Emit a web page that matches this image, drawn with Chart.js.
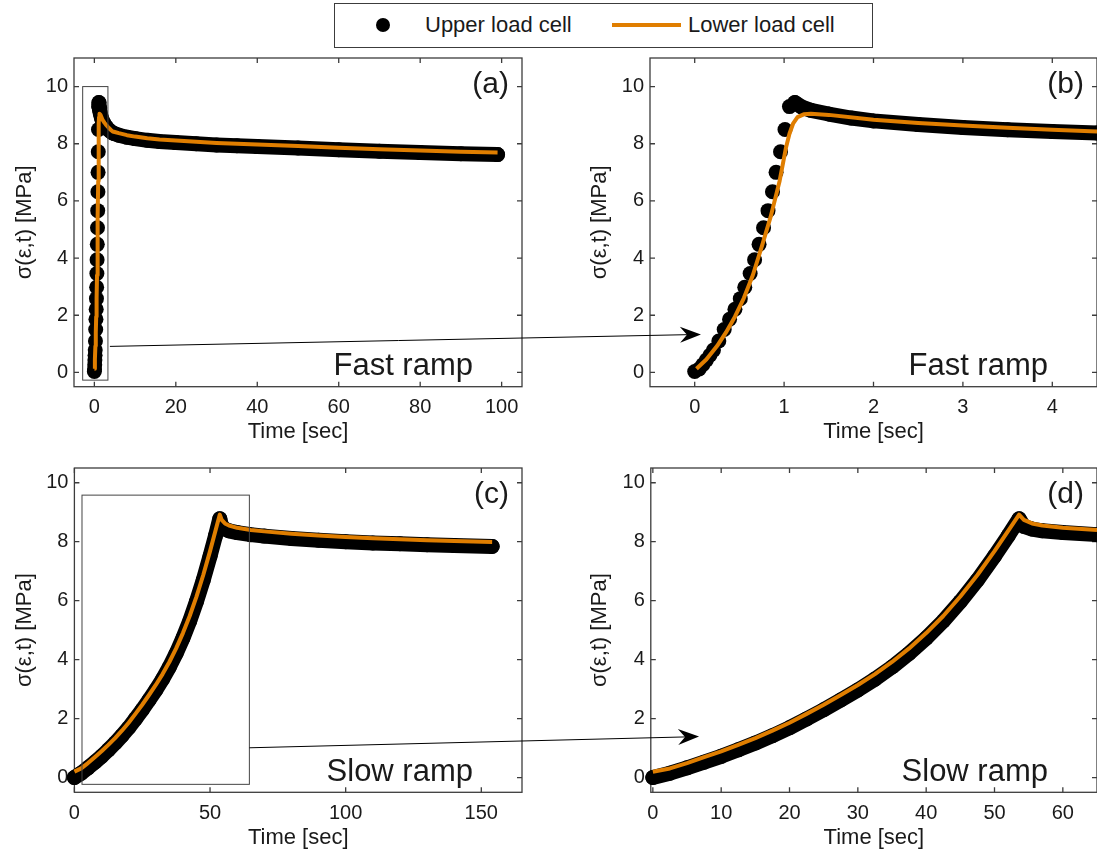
<!DOCTYPE html>
<html>
<head>
<meta charset="utf-8">
<title>Fast and slow ramp relaxation</title>
<script src="https://cdn.jsdelivr.net/npm/chart.js@4.4.1/dist/chart.umd.min.js"></script>
<style>
  html, body { margin: 0; padding: 0; background: #fff; overflow: hidden; width: 1097px; height: 856px; }
  body { position: relative; font-family: "Liberation Sans", Arial, sans-serif; color: #1a1a1a; }
  canvas { position: absolute; }
  #legend { position: absolute; left: 334px; top: 3px; width: 539px; height: 45px; box-sizing: border-box; border: 1px solid #3c3c3c; background: #fff; }
  #legend .dot { position: absolute; left: 41px; top: 14px; width: 14px; height: 14px; border-radius: 50%; background: #000; }
  #legend .line { position: absolute; left: 277px; top: 19px; width: 69px; height: 4px; background: #e07e00; }
  #legend .label { position: absolute; top: 8px; line-height: 26px; font-size: 22px; white-space: nowrap; }
  #overlay { left: 0; top: 0; pointer-events: none; z-index: 5; }
</style>
</head>
<body>
<div id="legend">
  <span class="dot"></span><span class="label" style="left:90px">Upper load cell</span>
  <span class="line"></span><span class="label" style="left:353px">Lower load cell</span>
</div>
<canvas id="panelA" width="545" height="410" style="left:0;top:40px"></canvas>
<canvas id="panelB" width="545" height="410" style="left:575px;top:40px"></canvas>
<canvas id="panelC" width="545" height="406" style="left:0;top:450px"></canvas>
<canvas id="panelD" width="545" height="406" style="left:575px;top:450px"></canvas>
<canvas id="overlay" width="1097" height="856"></canvas>
<script>
// fast ramp test (panels a and b show the same record)
const fastUpperTime = [0, 0.05, 0.09, 0.13, 0.17, 0.21, 0.27, 0.33, 0.39, 0.45,
  0.51, 0.56, 0.62, 0.67, 0.72, 0.77, 0.82, 0.87, 0.91, 0.96,
  1.01, 1.06, 1.12, 1.2, 1.3, 1.5, 1.75, 2, 2.5, 3,
  3.5, 4, 4.5, 5, 6, 8, 10, 13, 16, 20,
  25, 30, 35, 40, 50, 60, 70, 80, 90, 99];
const fastUpperStress = [0.03, 0.12, 0.27, 0.43, 0.6, 0.78, 1.1, 1.5, 1.86, 2.21,
  2.58, 2.98, 3.46, 3.94, 4.48, 5.06, 5.66, 6.32, 7.0, 7.72,
  8.5, 9.3, 9.44, 9.28, 9.17, 9.04, 8.9, 8.8, 8.67, 8.57,
  8.49, 8.43, 8.38, 8.35, 8.3, 8.23, 8.18, 8.12, 8.08, 8.04,
  8.0, 7.96, 7.93, 7.9, 7.85, 7.79, 7.74, 7.69, 7.65, 7.62];
const fastLowerTime = [0.02, 0.13, 0.25, 0.35, 0.45, 0.55, 0.65, 0.75, 0.85, 0.95,
  1.02, 1.06, 1.1, 1.15, 1.22, 1.3, 1.5, 2, 2.5, 3,
  3.5, 4, 4.5, 5, 6, 8, 10, 13, 16, 20,
  25, 30, 35, 40, 50, 60, 70, 80, 90, 99];
const fastLowerStress = [0.13, 0.45, 0.92, 1.4, 1.95, 2.6, 3.4, 4.4, 5.45, 6.7,
  7.85, 8.35, 8.7, 8.93, 9.03, 9.05, 9.01, 8.84, 8.73, 8.64,
  8.56, 8.49, 8.43, 8.41, 8.37, 8.3, 8.25, 8.19, 8.15, 8.11,
  8.07, 8.03, 8.0, 7.97, 7.92, 7.86, 7.81, 7.76, 7.72, 7.69];
const fastRampEnd = 1.12; // last separate dot before the relaxation band

// slow ramp test (panels c and d)
const slowTime = [0, 2.5, 5, 7.5, 10, 12.5, 15, 17.5, 20, 22.5,
  25, 27.5, 30, 32.5, 35, 37.5, 40, 42.5, 45, 47.5,
  50, 52, 53.6, 54.3, 55.5, 57, 60, 65, 70, 80,
  90, 100, 110, 120, 130, 140, 154];
const slowUpperStress = [0, 0.15, 0.33, 0.52, 0.72, 0.94, 1.17, 1.42, 1.69, 1.99,
  2.3, 2.63, 2.97, 3.34, 3.75, 4.21, 4.73, 5.31, 5.97, 6.7,
  7.51, 8.2, 8.78, 8.52, 8.43, 8.37, 8.31, 8.24, 8.19, 8.11,
  8.05, 8.0, 7.96, 7.93, 7.9, 7.87, 7.84];
const slowLowerStress = [0.2, 0.31, 0.49, 0.69, 0.89, 1.11, 1.34, 1.59, 1.86, 2.16,
  2.47, 2.8, 3.14, 3.51, 3.92, 4.38, 4.9, 5.48, 6.14, 6.87,
  7.68, 8.37, 8.92, 8.74, 8.62, 8.55, 8.47, 8.4, 8.35, 8.27,
  8.21, 8.16, 8.12, 8.08, 8.05, 8.02, 7.99];

// tick labels
const stressTicks = [0, 2, 4, 6, 8, 10];
const ticksA = [0, 20, 40, 60, 80, 100];
const ticksB = [0, 1, 2, 3, 4];
const ticksC = [0, 50, 100, 150];
const ticksD = [0, 10, 20, 30, 40, 50, 60];

const ORANGE = "#e07e00";
const INK = "#1a1a1a";
const FRAME = "#3c3c3c";

Chart.defaults.font.family = '"Liberation Sans", Arial, sans-serif';

const toPoints = (xs, ys) => xs.map((x, i) => ({ x, y: ys[i] }));

const frameTicks = {
  id: "frameTicks",
  beforeDatasetsDraw(chart) {
    const { ctx, chartArea: a, scales: { x, y } } = chart;
    ctx.save();
    ctx.strokeStyle = FRAME;
    ctx.lineWidth = 1.3;
    ctx.strokeRect(a.left, a.top, a.right - a.left, a.bottom - a.top);
    ctx.beginPath();
    x.ticks.forEach((t) => {
      const px = x.getPixelForValue(t.value);
      ctx.moveTo(px, a.bottom);
      ctx.lineTo(px, a.bottom - 5);
      ctx.moveTo(px, a.top);
      ctx.lineTo(px, a.top + 5);
    });
    y.ticks.forEach((t) => {
      const py = y.getPixelForValue(t.value);
      ctx.moveTo(a.left, py);
      ctx.lineTo(a.left + 5, py);
      ctx.moveTo(a.right, py);
      ctx.lineTo(a.right - 5, py);
    });
    ctx.stroke();
    ctx.restore();
  },
};

const panelText = {
  id: "panelText",
  afterDatasetsDraw(chart, args, opts) {
    const { ctx, chartArea: a, scales: { x, y } } = chart;
    ctx.save();
    if (opts.box) {
      const [x0, x1, y0, y1] = opts.box;
      ctx.strokeStyle = "#444";
      ctx.lineWidth = 1;
      const l = x.getPixelForValue(x0), r = x.getPixelForValue(x1);
      const t = y.getPixelForValue(y1), b = y.getPixelForValue(y0);
      ctx.strokeRect(l, t, r - l, b - t);
    }
    ctx.fillStyle = INK;
    ctx.textAlign = "right";
    ctx.font = '30px "Liberation Sans", Arial, sans-serif';
    ctx.textBaseline = "middle";
    ctx.fillText(opts.tag, a.right - 13, a.top + 27);
    ctx.font = '31px "Liberation Sans", Arial, sans-serif';
    ctx.textBaseline = "alphabetic";
    ctx.fillText(opts.note, a.right - 49, a.bottom - 11.5);
    ctx.restore();
  },
};

function makePanel(id, cfg) {
  return new Chart(document.getElementById(id), {
    type: "line",
    data: {
      datasets: [
        {
          label: "Upper load cell",
          data: cfg.upper,
          order: 2,
          borderColor: "#000",
          borderWidth: 15,
          borderCapStyle: "round",
          borderJoinStyle: "round",
          pointRadius: 7.5,
          pointBackgroundColor: "#000",
          pointBorderWidth: 0,
          segment: cfg.rampEnd
            ? { borderColor: (c) => (c.p0.parsed.x < cfg.rampEnd ? "transparent" : "#000") }
            : {},
          clip: false,
        },
        {
          label: "Lower load cell",
          data: cfg.lower,
          order: 1,
          borderColor: ORANGE,
          borderWidth: 4,
          borderJoinStyle: "round",
          pointRadius: 0,
          clip: false,
        },
      ],
    },
    options: {
      responsive: false,
      animation: false,
      events: [],
      layout: { padding: { left: 0, top: cfg.padTop, right: 23, bottom: 0 } },
      scales: {
        x: {
          type: "linear",
          min: cfg.xMin,
          max: cfg.xMax,
          afterBuildTicks: (s) => { s.ticks = cfg.xTicks.map((v) => ({ value: v })); },
          afterFit: (s) => { s.height = cfg.xAxisHeight; },
          grid: { display: false, drawTicks: false },
          border: { display: false },
          ticks: { autoSkip: false, maxRotation: 0, padding: 9, color: INK, font: { size: 20 } },
          title: { display: true, text: "Time [sec]", color: INK, font: { size: 22 }, padding: { top: 0, bottom: 5 } },
        },
        y: {
          type: "linear",
          min: -0.5,
          max: cfg.yMax,
          afterBuildTicks: (s) => { s.ticks = stressTicks.map((v) => ({ value: v })); },
          afterFit: (s) => { s.width = cfg.yAxisWidth; },
          grid: { display: false, drawTicks: false },
          border: { display: false },
          ticks: { autoSkip: false, padding: 6, color: INK, font: { size: 20 } },
          title: { display: true, text: "σ(ε,t) [MPa]", color: INK, font: { size: 22 }, padding: { top: 12, bottom: 0 } },
        },
      },
      plugins: {
        legend: { display: false },
        tooltip: { enabled: false },
        panelText: { tag: cfg.tag, note: cfg.note, box: cfg.box },
      },
    },
    plugins: [frameTicks, panelText],
  });
}

const fastUpper = toPoints(fastUpperTime, fastUpperStress);
const fastLower = toPoints(fastLowerTime, fastLowerStress);
const slowUpper = toPoints(slowTime, slowUpperStress);
const slowLower = toPoints(slowTime, slowLowerStress);

const chartA = makePanel("panelA", {
  upper: fastUpper, lower: fastLower, rampEnd: fastRampEnd,
  xMin: -5, xMax: 105, xTicks: ticksA, yMax: 11,
  padTop: 14.3, xAxisHeight: 63.3, yAxisWidth: 74,
  tag: "(a)", note: "Fast ramp", box: [-2.87, 3.33, -0.27, 10],
});
const chartB = makePanel("panelB", {
  upper: fastUpper, lower: fastLower, rampEnd: fastRampEnd,
  xMin: -0.5, xMax: 4.5, xTicks: ticksB, yMax: 11,
  padTop: 14.3, xAxisHeight: 63.3, yAxisWidth: 75,
  tag: "(b)", note: "Fast ramp",
});
const chartC = makePanel("panelC", {
  upper: slowUpper, lower: slowLower,
  xMin: 0, xMax: 165, xTicks: ticksC, yMax: 10.5,
  padTop: 10, xAxisHeight: 63.7, yAxisWidth: 74.4,
  tag: "(c)", note: "Slow ramp", box: [2.8, 64.5, -0.23, 9.58],
});
const chartD = makePanel("panelD", {
  upper: slowUpper, lower: slowLower,
  xMin: -0.3, xMax: 65, xTicks: ticksD, yMax: 10.5,
  padTop: 10, xAxisHeight: 63.7, yAxisWidth: 75.8,
  tag: "(d)", note: "Slow ramp",
});

// zoom arrows, anchored in each panel's data coordinates
const zoomArrows = [
  { from: [chartA, 3.82, 0.91], to: [chartB, 0.07, 1.33] },
  { from: [chartC, 64.5, 1.01], to: [chartD, 6.76, 1.39] },
];

const pagePoint = ([chart, xv, yv]) => [
  chart.canvas.offsetLeft + chart.scales.x.getPixelForValue(xv),
  chart.canvas.offsetTop + chart.scales.y.getPixelForValue(yv),
];

const octx = document.getElementById("overlay").getContext("2d");
octx.strokeStyle = "#000";
octx.fillStyle = "#000";
octx.lineWidth = 1;
zoomArrows.forEach((arrow) => {
  const [x0, y0] = pagePoint(arrow.from);
  const [x1, y1] = pagePoint(arrow.to);
  const ang = Math.atan2(y1 - y0, x1 - x0);
  const cos = Math.cos(ang), sin = Math.sin(ang);
  const nx = x1 - cos * 14, ny = y1 - sin * 14;
  const bx = x1 - cos * 21, by = y1 - sin * 21;
  octx.beginPath();
  octx.moveTo(x0, y0);
  octx.lineTo(nx, ny);
  octx.stroke();
  octx.beginPath();
  octx.moveTo(x1, y1);
  octx.lineTo(bx - sin * 8, by + cos * 8);
  octx.lineTo(nx, ny);
  octx.lineTo(bx + sin * 8, by - cos * 8);
  octx.closePath();
  octx.fill();
});
</script>
</body>
</html>
